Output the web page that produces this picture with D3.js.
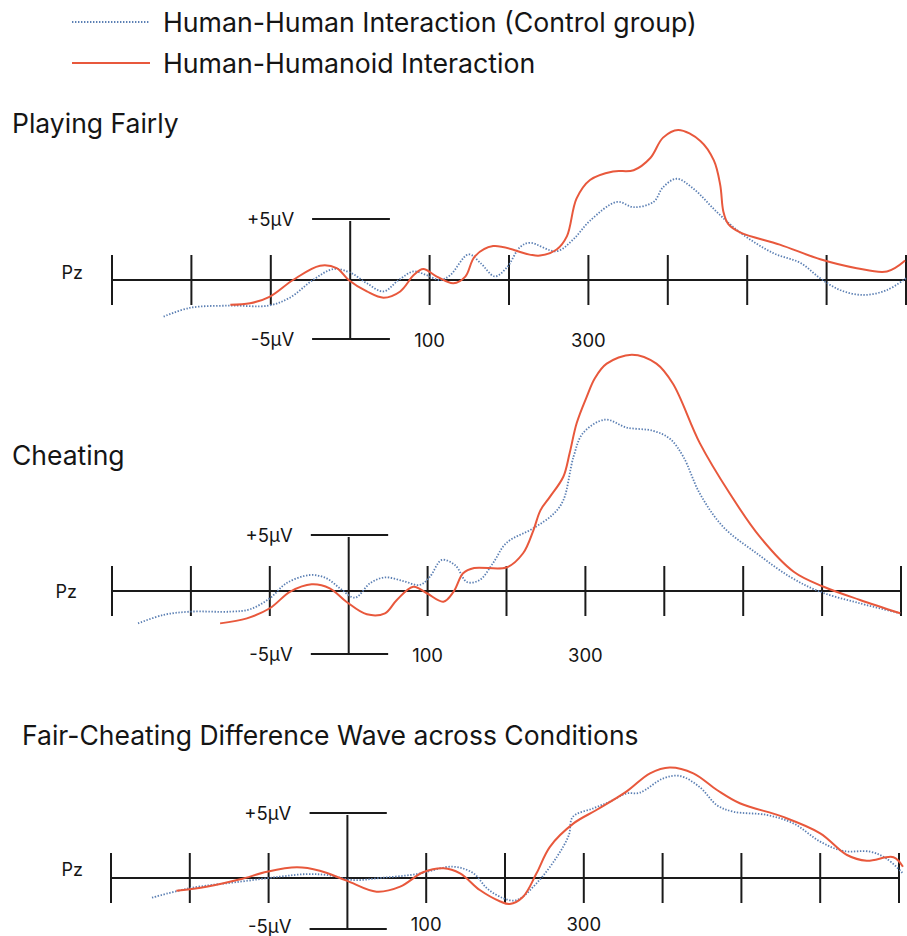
<!DOCTYPE html>
<html><head><meta charset="utf-8">
<script src="https://cdn.jsdelivr.net/npm/d3@7"></script>
<style>
body{margin:0;background:#fff}
text{font-family:Inter,"Noto Sans",sans-serif;fill:#151515}
</style>
</head><body>
<svg id="c" width="907" height="936"></svg>
<script>
// ---------- DATA ----------
const seriesNames = ["Human-Human Interaction (Control group)", "Human-Humanoid Interaction"];
const panelTitles = ["Playing Fairly", "Cheating", "Fair-Cheating Difference Wave across Conditions"];
const timeTicks = [-300,-200,-100,0,100,200,300,400,500,600,700];   // ms
const timeTickLabels = [100, 300];
const voltMarks = [5, -5];                                        // µV
const voltLabels = ["+5µV", "-5µV"];
const channelLabel = "Pz";

// [time ms, amplitude µV]
const fairControl = [[-235,-3.1],[-202,-2.36],[-151,-2.17],[-103,-2.17],[-76,-1.5],[-47,0],[-21,0.9],[0,0.6],[21,-0.28],[42,-0.97],[61,0],[80,0.7],[96,0.4],[113,0],[126,0.4],[149,2.1],[164,1.4],[182,0.3],[197,1.0],[214,2.7],[226,3.05],[260,2.36],[281,3.33],[302,4.86],[336,6.4],[357,5.97],[382,6.4],[394,7.6],[411,8.3],[432,7.5],[462,5.56],[491,3.9],[533,2.2],[567,1.4],[592,0.14],[617,-0.85],[646,-1.27],[676,-0.85],[700,0.14]];
const fairRobot = [[-151,-2.1],[-126,-1.97],[-101,-1.4],[-72,0],[-38,1.17],[-17,0.97],[-2,0],[21,-0.97],[42,-1.5],[63,-0.97],[80,0.4],[92,0.9],[109,0.28],[130,-0.28],[145,0.28],[157,1.94],[180,2.78],[226,2.08],[239,2.0],[260,2.5],[273,3.6],[285,6.67],[302,8.2],[331,8.9],[357,9.0],[378,10.0],[394,11.67],[413,12.3],[441,11.4],[458,9.8],[466,7.8],[470,5.6],[476,4.6],[491,3.9],[541,2.9],[592,1.7],[638,0.97],[676,0.7],[699,1.6]];
const cheatControl = [[-267,-2.57],[-235,-1.9],[-201,-1.64],[-150,-1.64],[-125,-1.45],[-100,-0.58],[-79,0.69],[-49,1.43],[-28,1.13],[-11,0.24],[8,-0.53],[27,0.69],[46,1.22],[69,0.89],[90,0.54],[103,1.28],[118,2.77],[135,2.3],[150,0.8],[166,0.98],[183,2.5],[200,4.3],[234,5.6],[259,6.85],[272,8.1],[285,12.0],[297,14.1],[325,15.3],[352,14.6],[386,14.3],[407,13.6],[424,12.0],[445,8.7],[475,5.7],[517,3.37],[559,1.28],[597,-0.05],[648,-0.98],[699,-1.77]];
const cheatRobot = [[-163,-2.57],[-129,-2.17],[-100,-1.37],[-74,-0.05],[-47,0.6],[-24,0.24],[-3,-0.85],[23,-1.85],[46,-1.77],[61,-0.71],[82,0.38],[99,-0.18],[120,-0.85],[133,-0.05],[145,1.58],[159,2.05],[200,2.1],[221,3.37],[234,5.4],[243,7.2],[255,8.4],[272,10.2],[280,12.3],[289,15.0],[302,17.4],[312,19.0],[327,20.3],[359,21.1],[390,20.3],[411,18.5],[445,13.2],[483,8.7],[521,4.85],[564,1.72],[602,0.38],[648,-0.71],[699,-1.77]];
const diffControl = [[-248,-1.93],[-200,-1.0],[-136,-0.36],[-86,0.1],[-52,0.3],[-26,0.23],[8,-0.2],[41,0],[88,0.3],[134,0.87],[160,0.36],[177,-1.0],[198,-1.99],[215,-2.16],[240,-0.52],[266,1.64],[281,3.3],[286,4.7],[312,5.36],[333,5.87],[354,6.5],[371,6.56],[401,7.67],[422,7.85],[447,7.0],[469,5.6],[490,5.1],[532,4.85],[566,4.2],[600,2.8],[629,2.08],[663,2.03],[684,1.5],[705,0.36]];
const diffRobot = [[-217,-1.25],[-179,-0.85],[-136,-0.13],[-102,0.48],[-64,0.82],[-35,0.56],[-1,-0.26],[37,-1.34],[67,-0.85],[96,0.44],[122,0.75],[143,0.36],[168,-1.18],[194,-2.3],[206,-2.55],[223,-1.83],[240,0.36],[257,2.4],[287,4.2],[316,5.23],[354,6.64],[384,8.05],[409,8.5],[439,8.05],[469,6.77],[498,5.75],[553,4.7],[600,3.44],[634,1.77],[659,1.33],[693,1.6],[705,0.87]];

// ---------- LAYOUT ----------
const W = 907, H = 936;
const colors = {control:"#5b7fb3", robot:"#e8583c", axis:"#1a1a1a"};
const panels = [
  {title:panelTitles[0], tx:12, ty:133, base:280, top:219, bot:339, xl:112, xr:906, pzx:83, pzdy:-8, lbdy:7.5, vdy:6.5, control:fairControl, robot:fairRobot},
  {title:panelTitles[1], tx:12, ty:465, base:591, top:535, bot:654, xl:112, xr:901, pzx:77, pzdy:0, lbdy:7.5, vdy:6.5, control:cheatControl, robot:cheatRobot},
  {title:panelTitles[2], tx:22, ty:745, base:878, top:813, bot:929, xl:111, xr:899, pzx:83, pzdy:-9, lbdy:1.5, vdy:4, control:diffControl, robot:diffRobot}
];

const svg = d3.select("#c").attr("viewBox",[0,0,W,H]);
svg.append("rect").attr("width",W).attr("height",H).attr("fill","#fff");

// Legend
const leg = svg.append("g");
[["control",22],["robot",63]].forEach(([k,y],i)=>{
  const l = leg.append("line").attr("x1",72).attr("x2",150).attr("y1",y).attr("y2",y)
    .attr("stroke",colors[k]).attr("stroke-width",k==="control"?1.8:2);
  if(k==="control") l.attr("stroke-dasharray","1.4 1.6");
  leg.append("text").attr("x",163).attr("y",y+9.5).attr("font-size",26.7).text(seriesNames[i]);
});

panels.forEach(p=>{
  const x = d3.scaleLinear().domain([timeTicks[0], timeTicks[timeTicks.length-1]]).range([p.xl,p.xr]);
  const y = d3.scaleLinear().domain([-5,0,5]).range([p.bot,p.base,p.top]);
  const g = svg.append("g");

  g.append("text").attr("x",p.tx).attr("y",p.ty).attr("font-size",26.5).text(p.title);

  // baseline
  g.append("line").attr("x1",x(timeTicks[0])).attr("x2",x(timeTicks[timeTicks.length-1]))
    .attr("y1",y(0)).attr("y2",y(0)).attr("stroke",colors.axis).attr("stroke-width",2);
  // ticks
  g.selectAll(".tk").data(timeTicks.filter(t=>t!==0)).join("line")
    .attr("x1",d=>x(d)).attr("x2",d=>x(d)).attr("y1",y(0)-25).attr("y2",y(0)+25)
    .attr("stroke",colors.axis).attr("stroke-width",2);
  // vertical axis at 0 ms
  g.append("line").attr("x1",x(0)).attr("x2",x(0)).attr("y1",y(5)+2).attr("y2",y(-5)-1)
    .attr("stroke",colors.axis).attr("stroke-width",2);
  // calibration bars
  g.selectAll(".cal").data(voltMarks).join("line")
    .attr("x1",x(-48)).attr("x2",x(50)).attr("y1",d=>y(d)).attr("y2",d=>y(d))
    .attr("stroke",colors.axis).attr("stroke-width",2);
  g.selectAll(".cl").data(voltMarks).join("text")
    .attr("x",x(0)-56).attr("y",d=>y(d)+(d<0?p.vdy:6.5)).attr("text-anchor","end").attr("font-size",18.5)
    .text((d,i)=>voltLabels[i]);
  // time labels
  g.selectAll(".tl").data(timeTickLabels).join("text")
    .attr("x",d=>x(d)).attr("y",y(-5)+p.lbdy).attr("text-anchor","middle").attr("font-size",18.5)
    .text(d=>d);
  // channel
  g.append("text").attr("x",p.pzx).attr("y",y(0)+p.pzdy+6.5).attr("text-anchor","end").attr("font-size",18).text(channelLabel);

  const line = d3.line().x(d=>x(d[0])).y(d=>y(d[1])).curve(d3.curveCatmullRom.alpha(0.5));
  g.append("path").attr("d",line(p.control)).attr("fill","none").attr("stroke",colors.control)
    .attr("stroke-width",1.8).attr("stroke-dasharray","1.4 1.6");
  g.append("path").attr("d",line(p.robot)).attr("fill","none").attr("stroke",colors.robot)
    .attr("stroke-width",2);
});
</script>
</body></html>
